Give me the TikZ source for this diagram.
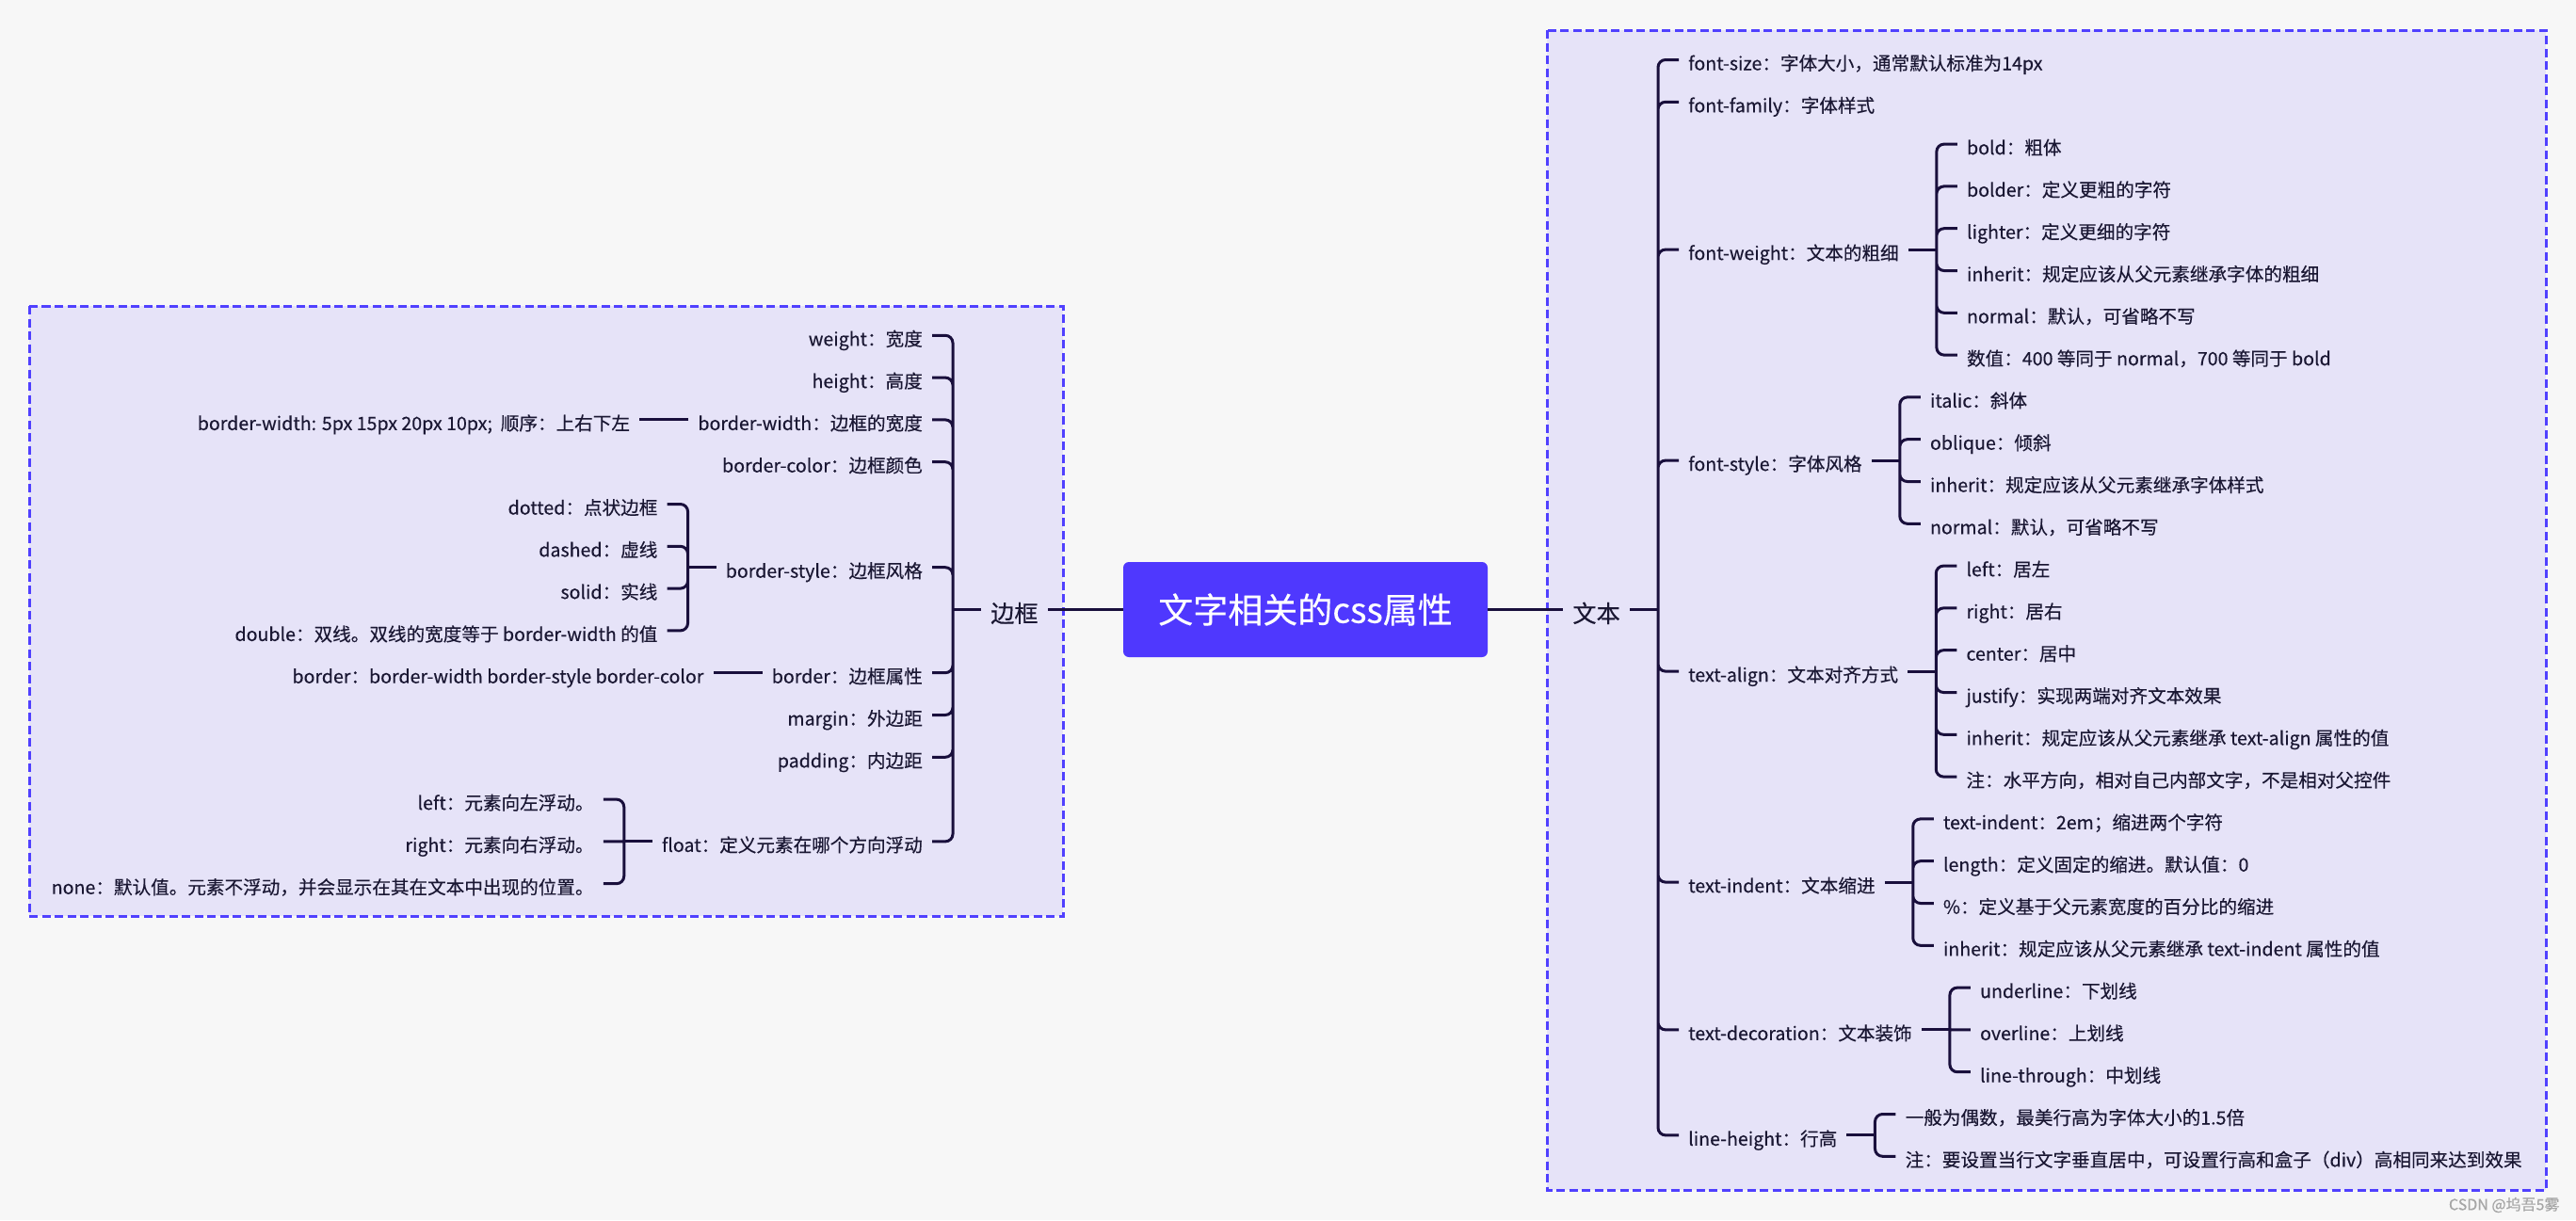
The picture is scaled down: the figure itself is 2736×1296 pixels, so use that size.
\documentclass[tikz,border=0pt]{standalone}
\usepackage{fontspec}
\setmainfont{Noto Sans CJK SC}[FakeBold=0.3]
\usepackage{tikz}
\usetikzlibrary{positioning, calc}

\definecolor{bgcol}{HTML}{F7F7F7}
\definecolor{boxfill}{HTML}{E6E3F8}
\definecolor{boxline}{HTML}{5040FF}
\definecolor{rootcol}{HTML}{4F38FE}
\definecolor{linecol}{HTML}{190F3C}
\definecolor{textcol}{HTML}{1A1733}

\tikzset{
  link/.style={draw=linecol, line width=3pt, rounded corners=8pt},
  item/.style={text=textcol, font=\fontsize{19.6}{24}\selectfont, inner xsep=10pt, inner ysep=2pt, text height=22pt, text depth=0pt},
  topic/.style={item, font=\fontsize{25.2}{30}\selectfont, text height=27pt, text depth=0pt},
  rootbox/.style={fill=rootcol, text=white, rounded corners=6pt, minimum width=387pt, minimum height=101pt, font=\fontsize{37}{44}\selectfont},
  groupbox/.style={fill=boxfill, draw=boxline, line width=3pt, dash pattern=on 9pt off 4.5pt},
  credit/.style={text=gray!70, font=\fontsize{16}{18}\selectfont}
}

\begin{document}
\begin{tikzpicture}[x=1pt, y=-1pt, node distance=44.8pt]
\useasboundingbox (0,0) rectangle (2736,1296);
\fill[bgcol] (0,0) rectangle (2736,1296);
\path[groupbox] (31,325) rectangle (1129,973);
\path[groupbox] (1643,32) rectangle (2704,1264);

\node[rootbox] (root) at (1386.5,647.5) {文字相关的css属性};

% 文本
\node[topic, right=80pt of root] (wenben) {文本};
\coordinate (wj) at ([xshift=30pt]wenben.east);
\node[item, above right=584pt and 52pt of wenben.east, anchor=west] (fsize) {font-size：字体大小，通常默认标准为14px};
\node[item, below=of fsize.west, anchor=west] (ffamily) {font-family：字体样式};
\node[item, below=156.8pt of ffamily.west, anchor=west] (fweight) {font-weight：文本的粗细};
\node[item, below=224pt of fweight.west, anchor=west] (fstyle) {font-style：字体风格};
\node[item, below=224pt of fstyle.west, anchor=west] (talign) {text-align：文本对齐方式};
\node[item, below=224pt of talign.west, anchor=west] (tindent) {text-indent：文本缩进};
\node[item, below=156.8pt of tindent.west, anchor=west] (tdeco) {text-decoration：文本装饰};
\node[item, below=112pt of tdeco.west, anchor=west] (lheight) {line-height：行高};

% font-weight
\coordinate (fwj) at ([xshift=30pt]fweight.east);
\node[item, above right=112pt and 52pt of fweight.east, anchor=west] (bold) {bold：粗体};
\node[item, below=of bold.west, anchor=west] (bolder) {bolder：定义更粗的字符};
\node[item, below=of bolder.west, anchor=west] (lighter) {lighter：定义更细的字符};
\node[item, below=of lighter.west, anchor=west] (fwinherit) {inherit：规定应该从父元素继承字体的粗细};
\node[item, below=of fwinherit.west, anchor=west] (fwnormal) {normal：默认，可省略不写};
\node[item, below=of fwnormal.west, anchor=west] (fwnumber) {数值：400 等同于 normal，700 等同于 bold};

% font-style
\coordinate (fsj) at ([xshift=30pt]fstyle.east);
\node[item, above right=67.2pt and 52pt of fstyle.east, anchor=west] (italic) {italic：斜体};
\node[item, below=of italic.west, anchor=west] (oblique) {oblique：倾斜};
\node[item, below=of oblique.west, anchor=west] (fsinherit) {inherit：规定应该从父元素继承字体样式};
\node[item, below=of fsinherit.west, anchor=west] (fsnormal) {normal：默认，可省略不写};

% text-align
\coordinate (taj) at ([xshift=30pt]talign.east);
\node[item, above right=112pt and 52pt of talign.east, anchor=west] (taleft) {left：居左};
\node[item, below=of taleft.west, anchor=west] (taright) {right：居右};
\node[item, below=of taright.west, anchor=west] (tacenter) {center：居中};
\node[item, below=of tacenter.west, anchor=west] (tajustify) {justify：实现两端对齐文本效果};
\node[item, below=of tajustify.west, anchor=west] (tainherit) {inherit：规定应该从父元素继承 text-align 属性的值};
\node[item, below=of tainherit.west, anchor=west] (tanote) {注：水平方向，相对自己内部文字，不是相对父控件};

% text-indent
\coordinate (tij) at ([xshift=30pt]tindent.east);
\node[item, above right=67.2pt and 52pt of tindent.east, anchor=west] (ti2em) {text-indent：2em；缩进两个字符};
\node[item, below=of ti2em.west, anchor=west] (tilength) {length：定义固定的缩进。默认值：0};
\node[item, below=of tilength.west, anchor=west] (tipercent) {\%：定义基于父元素宽度的百分比的缩进};
\node[item, below=of tipercent.west, anchor=west] (tiinherit) {inherit：规定应该从父元素继承 text-indent 属性的值};

% text-decoration
\coordinate (tdj) at ([xshift=30pt]tdeco.east);
\node[item, above right=44.8pt and 52pt of tdeco.east, anchor=west] (under) {underline：下划线};
\node[item, below=of under.west, anchor=west] (over) {overline：上划线};
\node[item, below=of over.west, anchor=west] (through) {line-through：中划线};

% line-height
\coordinate (lhj) at ([xshift=30pt]lheight.east);
\node[item, above right=22.4pt and 52pt of lheight.east, anchor=west] (lheven) {一般为偶数，最美行高为字体大小的1.5倍};
\node[item, below=of lheven.west, anchor=west] (lhnote) {注：要设置当行文字垂直居中，可设置行高和盒子（div）高相同来达到效果};

% 边框
\node[topic, left=80pt of root] (bianke) {边框};
\coordinate (bj) at ([xshift=-30pt]bianke.west);
\node[item, above left=291.2pt and 52pt of bianke.west, anchor=east] (weight) {weight：宽度};
\node[item, below=of weight.east, anchor=east] (height) {height：高度};
\node[item, below=of height.east, anchor=east] (bwidth) {border-width：边框的宽度};
\node[item, below=of bwidth.east, anchor=east] (bcolor) {border-color：边框颜色};
\node[item, below=112pt of bcolor.east, anchor=east] (bstyle) {border-style：边框风格};
\node[item, below=112pt of bstyle.east, anchor=east] (border) {border：边框属性};
\node[item, below=of border.east, anchor=east] (margin) {margin：外边距};
\node[item, below=of margin.east, anchor=east] (padding) {padding：内边距};
\node[item, below=89.6pt of padding.east, anchor=east] (float) {float：定义元素在哪个方向浮动};

\node[item, left=52pt of bwidth.west] (bwvalue) {border-width: 5px 15px 20px 10px;\ \ 顺序：上右下左};
\node[item, left=52pt of border.west] (bvalue) {border：border-width border-style border-color};

% border-style
\coordinate (bsj) at ([xshift=-30pt]bstyle.west);
\node[item, above left=67.2pt and 52pt of bstyle.west, anchor=east] (dotted) {dotted：点状边框};
\node[item, below=of dotted.east, anchor=east] (dashed) {dashed：虚线};
\node[item, below=of dashed.east, anchor=east] (solid) {solid：实线};
\node[item, below=of solid.east, anchor=east] (double) {double：双线。双线的宽度等于 border-width 的值};

% float
\coordinate (flj) at ([xshift=-30pt]float.west);
\node[item, above left=44.8pt and 52pt of float.west, anchor=east] (flleft) {left：元素向左浮动。};
\node[item, below=of flleft.east, anchor=east] (flright) {right：元素向右浮动。};
\node[item, below=of flright.east, anchor=east] (flnone) {none：默认值。元素不浮动，并会显示在其在文本中出现的位置。};

\node[credit, anchor=east] (csdn) at (2722,1280) {CSDN @坞吾5雾};

% connectors
\draw[link] (root) -- (wenben);
\draw[link] (wenben) -- (wj);
\draw[link] (wj) |- (fsize.west) (wj) |- (ffamily.west) (wj) |- (fweight.west) (wj) |- (fstyle.west)
  (wj) |- (talign.west) (wj) |- (tindent.west) (wj) |- (tdeco.west) (wj) |- (lheight.west);
\draw[link] (fweight) -- (fwj);
\draw[link] (fwj) |- (bold.west) (fwj) |- (bolder.west) (fwj) |- (lighter.west)
  (fwj) |- (fwinherit.west) (fwj) |- (fwnormal.west) (fwj) |- (fwnumber.west);
\draw[link] (fstyle) -- (fsj);
\draw[link] (fsj) |- (italic.west) (fsj) |- (oblique.west) (fsj) |- (fsinherit.west) (fsj) |- (fsnormal.west);
\draw[link] (talign) -- (taj);
\draw[link] (taj) |- (taleft.west) (taj) |- (taright.west) (taj) |- (tacenter.west)
  (taj) |- (tajustify.west) (taj) |- (tainherit.west) (taj) |- (tanote.west);
\draw[link] (tindent) -- (tij);
\draw[link] (tij) |- (ti2em.west) (tij) |- (tilength.west) (tij) |- (tipercent.west) (tij) |- (tiinherit.west);
\draw[link] (tdeco) -- (tdj);
\draw[link] (tdj) |- (under.west) (tdj) -- (over.west) (tdj) |- (through.west);
\draw[link] (lheight) -- (lhj);
\draw[link] (lhj) |- (lheven.west) (lhj) |- (lhnote.west);

\draw[link] (root) -- (bianke);
\draw[link] (bianke) -- (bj);
\draw[link] (bj) |- (weight.east) (bj) |- (height.east) (bj) |- (bwidth.east) (bj) |- (bcolor.east)
  (bj) |- (bstyle.east) (bj) |- (border.east) (bj) |- (margin.east) (bj) |- (padding.east) (bj) |- (float.east);
\draw[link] (bwidth) -- (bwvalue);
\draw[link] (border) -- (bvalue);
\draw[link] (bstyle) -- (bsj);
\draw[link] (bsj) |- (dotted.east) (bsj) |- (dashed.east) (bsj) |- (solid.east) (bsj) |- (double.east);
\draw[link] (float) -- (flj);
\draw[link] (flj) |- (flleft.east) (flj) -- (flright.east) (flj) |- (flnone.east);
\end{tikzpicture}
\end{document}
